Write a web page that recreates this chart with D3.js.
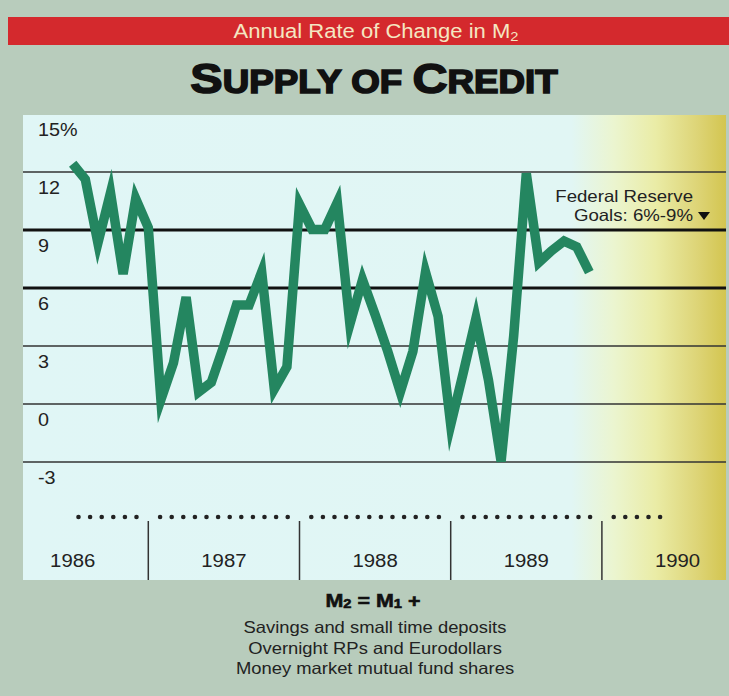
<!DOCTYPE html>
<html>
<head>
<meta charset="utf-8">
<script src="https://cdn.jsdelivr.net/npm/d3@7"></script>
<style>
body { margin: 0; background: #b8ccbc; }
svg { display: block; }
text { font-family: "Liberation Sans", Arial, sans-serif; }
</style>
</head>
<body>
<svg id="chart"></svg>
<script>
// monthly M2 growth, Jul 1986 - Dec 1989
const months = [
  "1986-07","1986-08","1986-09","1986-10","1986-11","1986-12",
  "1987-01","1987-02","1987-03","1987-04","1987-05","1987-06",
  "1987-07","1987-08","1987-09","1987-10","1987-11","1987-12",
  "1988-01","1988-02","1988-03","1988-04","1988-05","1988-06",
  "1988-07","1988-08","1988-09","1988-10","1988-11","1988-12",
  "1989-01","1989-02","1989-03","1989-04","1989-05","1989-06",
  "1989-07","1989-08","1989-09","1989-10","1989-11","1989-12"
]
const rates = [
  12.4, 11.6, 8.3, 10.9, 6.7, 10.6,
  9.1, 0.2, 2.1, 5.5, 0.6, 1.1,
  3.0, 5.1, 5.1, 6.8, 0.75, 1.9,
  10.3, 9.0, 9.0, 10.4, 4.1, 6.4,
  4.6, 2.7, 0.6, 2.7, 6.8, 4.5,
  -1.1, 1.6, 4.4, 1.2, -3.0, 3.5,
  11.9, 7.3, 7.9, 8.4, 8.1, 6.8
]
const yTicks = [12, 9, 6, 3, 0, -3]
const yLabels = ["15%", "12", "9", "6", "3", "0", "-3"]
const goalTicks = [9, 6]
const years = [1986, 1987, 1988, 1989, 1990]
// first and last month dot shown in each year strip
const dotFirst = [6, 0, 0, 0, 0]
const dotLast = [11, 11, 11, 11, 4]
const m2Parts = ["Savings and small time deposits", "Overnight RPs and Eurodollars", "Money market mutual fund shares"]

const W = 729, H = 696
const panel = {left: 23, right: 726, top: 115, bottom: 580}
const sx = 1.13 // the print type is a bit wide

const svg = d3.select("#chart").attr("width", W).attr("height", H)

const x = d3.scaleLinear().domain([1987, 1990]).range([148.3, 601.9])
const y = d3.scaleLinear().domain([-3, 12]).range([461.5, 171.5])

function wide(sel) {
  sel.each(function() {
    const t = d3.select(this)
    const tx = +t.attr("x"), ty = +t.attr("y")
    t.attr("x", 0).attr("y", 0)
     .attr("transform", `translate(${tx},${ty}) scale(${sx},1)`)
  })
  return sel
}

// background
svg.append("rect").attr("width", W).attr("height", H).attr("fill", "#b8ccbc")

const defs = svg.append("defs")
const grad = defs.append("linearGradient").attr("id", "fade")
  .attr("x1", 0).attr("x2", 1).attr("y1", 0).attr("y2", 0)
const stops = [[0, "#e0f6f6"], [0.78, "#e1f6f4"], [0.84, "#ebf5d0"], [0.9, "#eaeca6"], [0.96, "#ddd476"], [1, "#d3c550"]]
stops.forEach(s => grad.append("stop").attr("offset", s[0]).attr("stop-color", s[1]))

// red band and title
svg.append("rect").attr("x", 8).attr("y", 17).attr("width", W - 8).attr("height", 28).attr("fill", "#d4292d")

const band = svg.append("text").attr("x", 376).attr("y", 38)
  .attr("text-anchor", "middle").attr("font-size", 19.5).attr("fill", "#f4e6c2")
band.append("tspan").text("Annual Rate of Change in M")
band.append("tspan").attr("font-size", 13).attr("dy", 3).text("2")
wide(band)

const title = svg.append("text").attr("x", 374).attr("y", 93)
  .attr("text-anchor", "middle").attr("font-weight", "bold")
  .attr("fill", "#111").attr("stroke", "#111").attr("stroke-width", 1.6)
title.append("tspan").attr("font-size", 43).text("S")
title.append("tspan").attr("font-size", 32.5).text("UPPLY OF ")
title.append("tspan").attr("font-size", 43).text("C")
title.append("tspan").attr("font-size", 32.5).text("REDIT")
wide(title)

// chart panel
svg.append("rect")
  .attr("x", panel.left).attr("y", panel.top)
  .attr("width", panel.right - panel.left).attr("height", panel.bottom - panel.top)
  .attr("fill", "url(#fade)")

// grid lines
const grid = svg.append("g")
  .attr("transform", `translate(${panel.left},0)`)
  .call(d3.axisRight(y).tickValues(yTicks).tickSize(panel.right - panel.left).tickFormat(""))
grid.select(".domain").remove()
grid.selectAll(".tick line")
  .attr("stroke", d => goalTicks.includes(d) ? "#111" : "#333")
  .attr("stroke-width", d => goalTicks.includes(d) ? 3.2 : 1.6)

// y labels sit under their lines
svg.append("g").selectAll("text")
  .data([15].concat(yTicks))
  .enter().append("text")
  .attr("x", 38)
  .attr("y", d => y(d) + 22)
  .attr("font-size", 17.5)
  .attr("fill", "#222")
  .text((d, i) => yLabels[i])
  .call(wide)

// year strip
svg.append("g").selectAll("line")
  .data(years.slice(1))
  .enter().append("line")
  .attr("x1", d => x(d)).attr("x2", d => x(d))
  .attr("y1", 521).attr("y2", panel.bottom)
  .attr("stroke", "#333").attr("stroke-width", 1.5)

const dots = []
years.forEach((yr, i) => {
  for (let m = dotFirst[i]; m <= dotLast[i]; m++) dots.push({yr: yr, m: m})
})
svg.append("g").selectAll("circle")
  .data(dots)
  .enter().append("circle")
  .attr("cx", d => x(d.yr + 0.5) + (d.m - 5.5) * 11.6)
  .attr("cy", 517)
  .attr("r", 2.3)
  .attr("fill", "#222")

svg.append("g").selectAll("text")
  .data(years)
  .enter().append("text")
  .attr("x", d => x(d + 0.5))
  .attr("y", 567)
  .attr("text-anchor", "middle")
  .attr("font-size", 18)
  .attr("fill", "#222")
  .text(d => d)
  .call(wide)

// the series
const points = months.map((m, i) => {
  const p = m.split("-")
  return {t: +p[0] + (+p[1] - 1) / 12, v: rates[i]}
})
const line = d3.line().x(d => x(d.t)).y(d => y(d.v))

svg.append("path")
  .datum(points)
  .attr("d", line)
  .attr("fill", "none")
  .attr("stroke", "#248660")
  .attr("stroke-width", 9.5)
  .attr("stroke-linejoin", "miter")
  .attr("stroke-miterlimit", 6)

// fed goals note
svg.append("text").attr("x", 693).attr("y", 202)
  .attr("text-anchor", "end").attr("font-size", 16.5).attr("fill", "#222")
  .text("Federal Reserve").call(wide)
svg.append("text").attr("x", 693).attr("y", 221)
  .attr("text-anchor", "end").attr("font-size", 16.5).attr("fill", "#222")
  .text("Goals: 6%-9%").call(wide)
svg.append("path").attr("d", "M698,212L710,212L704,220Z").attr("fill", "#111")

// definition below
const eq = svg.append("text").attr("x", 373).attr("y", 607)
  .attr("text-anchor", "middle").attr("font-size", 19).attr("font-weight", "bold")
  .attr("fill", "#111").attr("stroke", "#111").attr("stroke-width", 0.6)
eq.append("tspan").text("M")
eq.append("tspan").attr("font-size", 13).attr("dy", 1).text("2")
eq.append("tspan").attr("dy", -1).text(" = M")
eq.append("tspan").attr("font-size", 13).attr("dy", 1).text("1")
eq.append("tspan").attr("dy", -1).text(" +")
wide(eq)

svg.append("g").selectAll("text")
  .data(m2Parts)
  .enter().append("text")
  .attr("x", 375)
  .attr("y", (d, i) => 633 + i * 20.5)
  .attr("text-anchor", "middle")
  .attr("font-size", 16.3)
  .attr("fill", "#222")
  .text(d => d)
  .call(wide)
</script>
</body>
</html>
